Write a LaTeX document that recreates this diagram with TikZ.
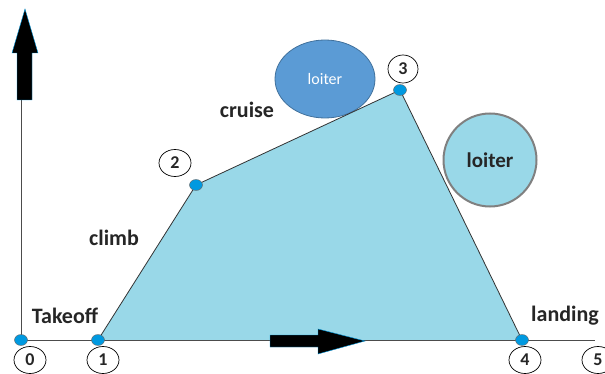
\documentclass[tikz,border=0pt]{standalone}
\usepackage{fontspec}
\setmainfont{Carlito}
\usetikzlibrary{positioning,shapes.geometric}

\definecolor{areablue}{RGB}{153,216,232}
\definecolor{ptblue}{RGB}{0,153,224}
\definecolor{loitblue}{RGB}{91,155,213}
\definecolor{loitedge}{RGB}{65,113,156}
\definecolor{txtdark}{RGB}{38,38,38}

\begin{document}
\begin{tikzpicture}[x=1pt,y=-1pt,
  wpt/.style={ellipse,draw=black!60,fill=ptblue,minimum width=13pt,minimum height=11pt,inner sep=0pt},
  numlbl/.style={ellipse,draw=black,line width=0.7pt,fill=white,minimum width=32pt,minimum height=27pt,inner sep=0pt,font=\bfseries\fontsize{18}{18}\selectfont,text=txtdark},
  seglbl/.style={font=\bfseries\fontsize{22}{22}\selectfont,text=txtdark},
  axisline/.style={draw=black!70,line width=0.8pt},
  blockarrow/.style={fill=black,draw=ptblue,line width=0.4pt}]
\useasboundingbox (0,0) rectangle (605,374);

% profile points
\coordinate (p0) at (21,340);
\coordinate (p1) at (98,340);
\coordinate (p2) at (196,185);
\coordinate (p3) at (400,90);
\coordinate (p4) at (522,340);
\coordinate (ytop) at (21,100);
\coordinate (xend) at (595,340);

\fill[areablue] (p1) -- (p2) -- (p3) -- (p4) -- cycle;

% loiter phases
\node[ellipse,draw=loitedge,fill=loitblue,line width=0.8pt,minimum width=100pt,minimum height=78pt,
  text=white,font=\fontsize{16}{16}\selectfont] (loit1) at (325,79) {loiter};
\node[circle,draw=black!50,fill=areablue,line width=2pt,minimum size=93pt,
  font=\bfseries\fontsize{21}{21}\selectfont,text=txtdark] (loit2) at (490,160) {loiter};

% axes and path
\draw[axisline] (ytop) -- (p0) -- (xend);
\draw[black!80,line width=0.8pt] (p1) -- (p2) -- (p3) -- (p4);

% block arrows
\draw[blockarrow] (17,100) -- (17,53) -- (12,53) -- (25,9) -- (38,53) -- (32,53) -- (32,100) -- cycle;
\draw[blockarrow] (270,335) -- (318,335) -- (318,329) -- (365,341) -- (318,354) -- (318,347) -- (270,347) -- cycle;

% waypoints
\foreach \p in {p0,p1,p2,p3,p4}
  \node[wpt] (w\p) at (\p) {};

% numbers
\node[numlbl] (n0) at (30,360) {0};
\node[numlbl] (n1) at (103,360) {1};
\node[numlbl] (n2) at (175,163) {2};
\node[numlbl,minimum width=30pt,minimum height=28pt] (n3) at (403,69) {3};
\node[numlbl] (n4) at (525,360) {4};
\node[numlbl] (n5) at (598,360) {5};

% phase labels
\node[seglbl] (takeoff) at (65,316) {Takeoff};
\node[seglbl] (climb) at (114,238) {climb};
\node[seglbl] (cruise) at (247,110) {cruise};
\node[seglbl] (landing) at (565,316) {landing};
\end{tikzpicture}
\end{document}
